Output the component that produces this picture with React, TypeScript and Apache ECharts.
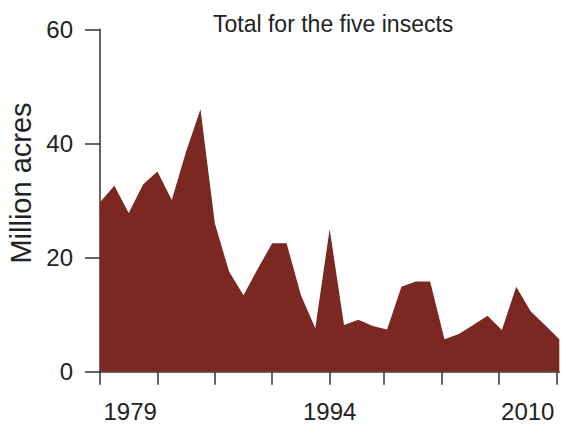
import React, { useEffect, useRef } from "react";
import * as echarts from "echarts";

const years = [
  "1979", "1980", "1981", "1982", "1983", "1984", "1985", "1986", "1987", "1988", "1989",
  "1990", "1991", "1992", "1993", "1994", "1995", "1996", "1997", "1998", "1999", "2000",
  "2001", "2002", "2003", "2004", "2005", "2006", "2007", "2008", "2009", "2010", "2011",
];
const acres = [
  29.7, 32.6, 27.8, 32.8, 35.1, 30.1, 38.6, 46.0, 26.0, 17.5, 13.4,
  18.1, 22.5, 22.5, 13.4, 7.6, 25.0, 8.2, 9.1, 8.0, 7.4, 14.9,
  15.8, 15.8, 5.7, 6.6, 8.2, 9.8, 7.3, 14.9, 10.6, 8.2, 5.7,
];
const xTickPositions = [0, 4, 8, 12, 16, 19.8, 23.8, 27.8, 31.8];
const xLabelPositions = [2.1, 16, 29.8];
const xLabelTexts = ["1979", "1994", "2010"];
const yTicks = [0, 20, 40, 60];

const FONT = "'Liberation Sans', Arial, sans-serif";
const TEXT = "#222";
const AXIS = "#333";
const FILL = "#7b2822";

export default function App() {
  const ref = useRef<HTMLDivElement>(null);
  useEffect(() => {
    document.body.style.margin = "0";
    const chart = echarts.init(ref.current!, null, { renderer: "svg" });
    chart.setOption({
      animation: false,
      title: {
        text: "Total for the five insects",
        left: 208,
        top: 7,
        textStyle: { fontSize: 23, fontWeight: "normal", fontFamily: FONT, color: TEXT },
      },
      grid: { left: 100, right: 1.7, top: 29.3, bottom: 54.3, containLabel: false },
      xAxis: {
        type: "value",
        min: 0,
        max: years.length - 1,
        axisLine: { show: true, lineStyle: { color: AXIS, width: 1.5 } },
        axisTick: { show: true, length: 13, customValues: xTickPositions, lineStyle: { color: AXIS, width: 1.5 } },
        axisLabel: {
          customValues: xLabelPositions,
          fontSize: 24,
          fontFamily: FONT,
          color: TEXT,
          margin: 28,
          formatter: (v: number) => {
            const i = xLabelPositions.findIndex((p) => Math.abs(p - v) < 1e-6);
            return i >= 0 ? xLabelTexts[i] : "";
          },
        },
        splitLine: { show: false },
      },
      yAxis: {
        type: "value",
        min: yTicks[0],
        max: yTicks[yTicks.length - 1],
        interval: 20,
        axisLine: { show: true, lineStyle: { color: AXIS, width: 1.5 } },
        axisTick: { show: true, length: 15, lineStyle: { color: AXIS, width: 1.5 } },
        axisLabel: { fontSize: 24, fontFamily: FONT, color: TEXT, margin: 27 },
        splitLine: { show: false },
      },
      graphic: [
        {
          type: "text",
          x: 21,
          y: 183,
          rotation: Math.PI / 2,
          style: {
            text: "Million acres",
            fontSize: 29,
            fontFamily: FONT,
            fill: TEXT,
            textAlign: "center",
            textVerticalAlign: "middle",
          },
        },
      ],
      series: [
        {
          type: "line",
          data: acres.map((v, i) => [i, v]),
          symbol: "none",
          lineStyle: { width: 0, color: FILL },
          areaStyle: { color: FILL, opacity: 1 },
          itemStyle: { color: FILL },
        },
      ],
    });
    return () => chart.dispose();
  }, []);
  return <div ref={ref} style={{ width: 561, height: 426 }} />;
}
